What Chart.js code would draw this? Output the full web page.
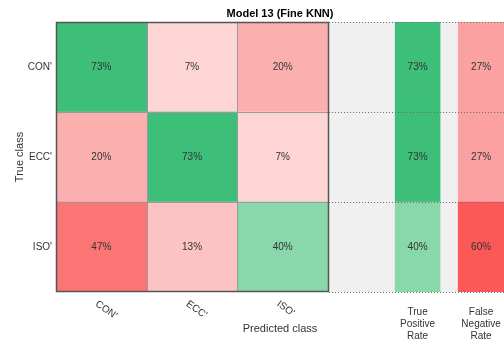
<!DOCTYPE html>
<html>
<head>
<meta charset="utf-8">
<title>Model 13 (Fine KNN)</title>
<script src="https://cdn.jsdelivr.net/npm/chart.js@4/dist/chart.umd.min.js"></script>
<style>
  html, body { margin: 0; padding: 0; background: #ffffff; }
  canvas { display: block; }
</style>
</head>
<body>
<canvas id="chart" width="504" height="339"></canvas>
<script>
// Confusion matrix for three classes, values in percent of each true class (row)
const classes = ["CON'", "ECC'", "ISO'"];
const confusionRows = [
  [73, 7, 20],
  [20, 73, 7],
  [47, 13, 40]
];
const truePositiveRate = [73, 73, 40];
const falseNegativeRate = [27, 27, 60];
const summaryLabels = [["True", "Positive", "Rate"], ["False", "Negative", "Rate"]];
const chartTitle = "Model 13 (Fine KNN)";
const xTitle = "Predicted class";
const yTitle = "True class";

// Horizontal layout in "matrix column" units
const SUMMARY_START = 3;
const X_END = 4.94;
const TPR_SPAN = [3.74, 4.235];
const FNR_SPAN = [4.435, 4.94];

const FONT = "'Liberation Sans', Arial, Helvetica, sans-serif";
const TEXT_COLOR = '#333333';

const redStops = [[0, [255, 255, 255]], [7, [253, 213, 213]], [13, [252, 195, 195]], [20, [251, 176, 176]],
                  [27, [251, 161, 161]], [47, [251, 117, 117]], [60, [251, 88, 88]], [100, [235, 30, 30]]];
const greenStops = [[0, [255, 255, 255]], [40, [136, 216, 170]], [73, [61, 191, 122]], [100, [20, 160, 90]]];

function ramp(stops, v) {
  for (let k = 1; k < stops.length; k++) {
    if (v <= stops[k][0]) {
      const [v0, c0] = stops[k - 1], [v1, c1] = stops[k];
      const t = (v - v0) / (v1 - v0);
      const c = c0.map((a, i) => Math.round(a + (c1[i] - a) * t));
      return `rgb(${c[0]},${c[1]},${c[2]})`;
    }
  }
  const c = stops[stops.length - 1][1];
  return `rgb(${c[0]},${c[1]},${c[2]})`;
}
const good = v => ramp(greenStops, v);
const bad = v => ramp(redStops, v);

const barBase = { grouped: false, categoryPercentage: 1, barPercentage: 1, borderWidth: 0, borderSkipped: false };

const datasets = [];
// one dataset per predicted-class column
classes.forEach((_, j) => {
  const values = confusionRows.map(row => row[j]);
  datasets.push(Object.assign({}, barBase, {
    label: classes[j],
    data: values.map(() => [j, j + 1]),
    values: values,
    backgroundColor: values.map((v, i) => (i === j ? good(v) : bad(v))),
    order: 0
  }));
});
datasets.push(Object.assign({}, barBase, {
  label: 'True Positive Rate',
  data: truePositiveRate.map(() => TPR_SPAN.slice()),
  values: truePositiveRate,
  backgroundColor: truePositiveRate.map(good),
  order: 0
}));
datasets.push(Object.assign({}, barBase, {
  label: 'False Negative Rate',
  data: falseNegativeRate.map(() => FNR_SPAN.slice()),
  values: falseNegativeRate,
  backgroundColor: falseNegativeRate.map(bad),
  order: 0
}));
// pale band behind the per-class summary columns
datasets.push(Object.assign({}, barBase, {
  label: 'summary',
  data: classes.map(() => [SUMMARY_START, X_END]),
  backgroundColor: '#f0f0f0',
  order: 5
}));

const decorations = {
  id: 'decorations',
  afterDatasetsDraw(chart) {
    const ctx = chart.ctx;
    const x = chart.scales.x, y = chart.scales.y;
    const area = chart.chartArea;
    const top = area.top, bottom = area.bottom;
    const bounds = [top];
    for (let i = 0; i < classes.length - 1; i++) {
      bounds.push((y.getPixelForValue(i) + y.getPixelForValue(i + 1)) / 2);
    }
    bounds.push(bottom);

    ctx.save();
    // dotted separators across the summary band
    ctx.strokeStyle = '#6a6a6a';
    ctx.lineWidth = 1;
    ctx.setLineDash([1, 2]);
    bounds.forEach(b => {
      const yy = Math.round(b) + 0.5;
      ctx.beginPath();
      ctx.moveTo(x.getPixelForValue(SUMMARY_START) + 1, yy);
      ctx.lineTo(area.right, yy);
      ctx.stroke();
    });
    ctx.setLineDash([]);

    // cell dividers in the matrix
    const mx0 = x.getPixelForValue(0), mx1 = x.getPixelForValue(classes.length);
    ctx.strokeStyle = '#9a9a9a';
    ctx.lineWidth = 1;
    for (let j = 1; j < classes.length; j++) {
      const xx = Math.round(x.getPixelForValue(j)) + 0.5;
      ctx.beginPath(); ctx.moveTo(xx, top); ctx.lineTo(xx, bottom); ctx.stroke();
    }
    for (let i = 1; i < bounds.length - 1; i++) {
      const yy = Math.round(bounds[i]) + 0.5;
      ctx.beginPath(); ctx.moveTo(mx0, yy); ctx.lineTo(mx1, yy); ctx.stroke();
    }
    // matrix frame
    ctx.strokeStyle = '#555555';
    ctx.lineWidth = 1.5;
    ctx.strokeRect(Math.round(mx0) + 0.5, Math.round(top) + 0.5, Math.round(mx1 - mx0), Math.round(bottom - top) - 1);

    // percentages inside the cells
    ctx.fillStyle = TEXT_COLOR;
    ctx.font = `10px ${FONT}`;
    ctx.textAlign = 'center';
    ctx.textBaseline = 'middle';
    chart.data.datasets.forEach((ds, di) => {
      if (!ds.values) return;
      chart.getDatasetMeta(di).data.forEach((el, i) => {
        const p = el.getCenterPoint();
        ctx.fillText(ds.values[i] + '%', p.x, p.y);
      });
    });

    // title
    const midX = (area.left + area.right) / 2;
    ctx.font = `bold 11px ${FONT}`;
    ctx.fillStyle = '#000000';
    ctx.fillText(chartTitle, midX, 14);

    // predicted-class tick labels, slanted
    ctx.font = `10px ${FONT}`;
    ctx.fillStyle = TEXT_COLOR;
    classes.forEach((c, j) => {
      const cx = x.getPixelForValue(j + 0.5);
      ctx.save();
      ctx.translate(cx - 5, bottom + 11);
      ctx.rotate(35 * Math.PI / 180);
      ctx.textAlign = 'left';
      ctx.fillText(c, 0, 0);
      ctx.restore();
    });

    // summary column labels
    [TPR_SPAN, FNR_SPAN].forEach((span, k) => {
      const cx = x.getPixelForValue((span[0] + span[1]) / 2);
      summaryLabels[k].forEach((line, li) => {
        ctx.fillText(line, cx, bottom + 20 + li * 12);
      });
    });

    // axis titles
    ctx.font = `11px ${FONT}`;
    ctx.fillText(xTitle, midX, bottom + 37);
    ctx.save();
    ctx.translate(20, (top + bottom) / 2);
    ctx.rotate(-Math.PI / 2);
    ctx.fillText(yTitle, 0, 0);
    ctx.restore();
    ctx.restore();
  }
};

new Chart(document.getElementById('chart'), {
  type: 'bar',
  data: { labels: classes, datasets: datasets },
  options: {
    indexAxis: 'y',
    responsive: false,
    maintainAspectRatio: false,
    animation: false,
    events: [],
    layout: { padding: { top: 22, bottom: 47, left: 0, right: 0 } },
    plugins: { legend: { display: false }, tooltip: { enabled: false }, title: { display: false } },
    scales: {
      x: { type: 'linear', min: 0, max: X_END, display: false },
      y: {
        type: 'category',
        offset: true,
        grid: { display: false, drawTicks: false },
        border: { display: false },
        ticks: { padding: 4, color: TEXT_COLOR, font: { size: 10, family: FONT } },
        afterFit(scale) { scale.width = 56; }
      }
    }
  },
  plugins: [decorations]
});
</script>
</body>
</html>
